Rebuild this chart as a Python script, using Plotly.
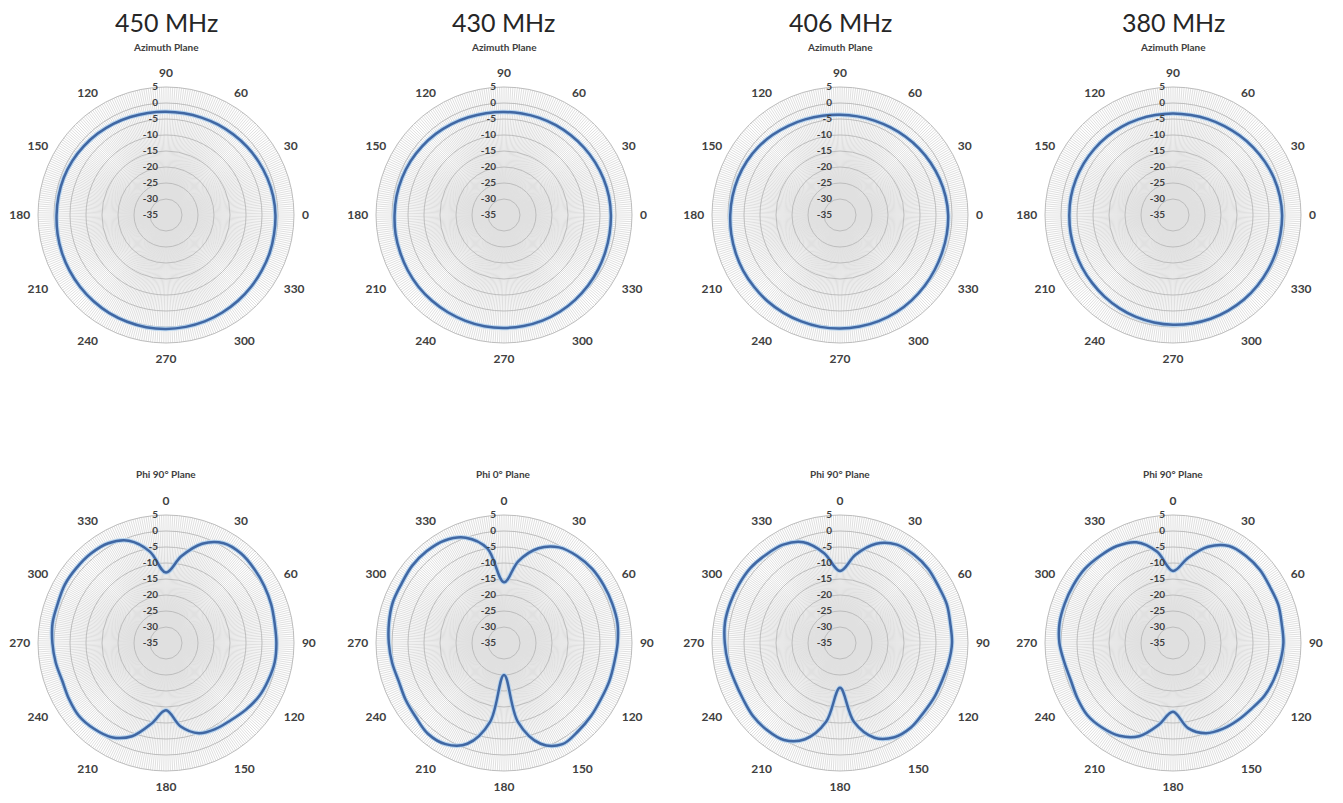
import plotly.graph_objects as go

# ---------------- data ----------------
FREQS = ["450 MHz", "430 MHz", "406 MHz", "380 MHz"]
TOP_TITLES = ["Azimuth Plane", "Azimuth Plane", "Azimuth Plane", "Azimuth Plane"]
BOTTOM_TITLES = ["Phi 90° Plane", "Phi 0° Plane", "Phi 90° Plane", "Phi 90° Plane"]

ANGLES = list(range(0, 360, 10))  # degrees

# Azimuth plane (gain dB), angles 0..350 step 10
AZ_450 = [-0.8, -1.0, -1.3, -1.6, -1.9, -2.2, -2.4, -2.6, -2.7, -2.7, -2.6, -2.4,
          -2.1, -1.8, -1.5, -1.2, -1.0, -0.9, -0.8, -0.6, -0.4, -0.2, 0.0, 0.2,
          0.4, 0.5, 0.6, 0.6, 0.5, 0.4, 0.2, 0.0, -0.2, -0.4, -0.5, -0.7]
AZ_430 = [-1.6, -1.7, -1.9, -2.1, -2.3, -2.5, -2.6, -2.7, -2.8, -2.8, -2.7, -2.5,
          -2.2, -1.9, -1.6, -1.3, -1.1, -0.9, -0.8, -0.6, -0.5, -0.3, -0.1, 0.0,
          0.1, 0.2, 0.3, 0.3, 0.2, 0.1, -0.1, -0.4, -0.7, -1.0, -1.3, -1.5]
AZ_406 = [-1.2, -1.5, -1.9, -2.3, -2.7, -3.1, -3.4, -3.6, -3.7, -3.7, -3.5, -3.2,
          -2.8, -2.3, -1.8, -1.4, -1.1, -0.9, -0.7, -0.5, -0.3, -0.1, 0.0, 0.2,
          0.3, 0.4, 0.5, 0.5, 0.4, 0.3, 0.1, -0.2, -0.5, -0.8, -1.0, -1.1]
AZ_380 = [-0.9, -1.1, -1.4, -1.8, -2.2, -2.6, -2.9, -3.1, -3.3, -3.3, -3.3, -3.2,
          -3.1, -3.0, -2.9, -2.8, -2.7, -2.6, -2.6, -2.5, -2.4, -2.2, -2.0, -1.7,
          -1.4, -1.1, -0.9, -0.7, -0.6, -0.5, -0.5, -0.5, -0.6, -0.7, -0.8, -0.9]

# Elevation planes (gain dB), angles 0..350 step 10 (0 at top, clockwise)
EL_450 = [-13.0, -7.5, -2.0, 1.0, 1.5, 1.0, 0.5, 0.0, -0.5, -0.5, -0.5, -1.0,
          -1.5, -2.5, -3.5, -4.0, -5.0, -8.5, -14.0, -9.5, -4.0, -1.0, 0.0, 0.5,
          0.0, -0.5, 0.0, 0.5, 1.0, 1.0, 1.5, 1.5, 1.5, 1.0, -1.0, -6.0]
EL_430 = [-16.0, -9.0, -3.5, -0.5, 0.5, 1.0, 1.0, 1.0, 1.0, 0.5, 0.0, 0.0,
          0.0, 0.5, 1.0, 1.5, -1.5, -10.0, -25.0, -10.0, -1.5, 1.5, 2.0, 1.0,
          0.5, 0.0, 0.5, 1.0, 1.5, 2.0, 2.0, 2.5, 2.5, 2.0, 0.0, -5.0]
EL_406 = [-12.5, -7.0, -2.0, 0.5, 1.0, 1.0, 0.5, 0.5, 0.0, 0.0, -0.5, -1.0,
          -1.0, -1.0, -0.5, -1.0, -3.5, -10.0, -21.0, -10.0, -3.0, 0.0, 0.5, 0.5,
          0.0, 0.0, 0.5, 1.0, 1.5, 1.5, 1.5, 1.5, 1.0, 0.5, -1.5, -6.5]
EL_380 = [-12.5, -8.0, -3.0, 0.0, 0.5, 0.5, 0.0, 0.0, -0.5, -0.5, -1.0, -1.5,
          -2.0, -3.0, -3.5, -4.0, -5.0, -8.0, -13.5, -9.0, -4.0, -1.5, -0.5, 0.0,
          -0.5, -1.0, -0.5, 0.5, 1.0, 1.0, 1.0, 1.0, 0.5, 0.0, -1.5, -6.0]

RADIAL_TICKS = [5, 0, -5, -10, -15, -20, -25, -30, -35]
ANGLE_LABELS = list(range(0, 360, 30))

TOP_SERIES = [AZ_450, AZ_430, AZ_406, AZ_380]
BOTTOM_SERIES = [EL_450, EL_430, EL_406, EL_380]

# ---------------- layout geometry ----------------
W, H = 1343, 803
R = 128
COL_X = [166, 504, 840, 1173]
ROW_Y = [215, 643]

DARK = "#4067A3"
HALO = "#B4D2EE"
GRID = "#BDBDBD"
SPOKE = "#E0E0E0"
TXT = "#404040"
FONT = "Lato"

fig = go.Figure()
layout_polars = {}

def closed(a):
    return list(a) + [a[0]]

idx = 0
for row in range(2):
    for col in range(4):
        idx += 1
        key = "polar" if idx == 1 else f"polar{idx}"
        cx, cy = COL_X[col], ROW_Y[row]
        vals = TOP_SERIES[col] if row == 0 else BOTTOM_SERIES[col]
        th = closed(ANGLES)
        rv = closed(vals)
        fig.add_trace(go.Scatterpolar(r=rv, theta=th, mode="lines", subplot=key,
                                      line=dict(color=HALO, width=4.5, shape="spline"),
                                      hoverinfo="skip", showlegend=False))
        fig.add_trace(go.Scatterpolar(r=rv, theta=th, mode="lines", subplot=key,
                                      line=dict(color=DARK, width=2.5, shape="spline"),
                                      showlegend=False))
        tickvals = list(range(0, 360))
        ticktext = [str(v) if v in ANGLE_LABELS else "" for v in tickvals]
        layout_polars[key] = dict(
            domain=dict(x=[(cx - R) / W, (cx + R) / W],
                        y=[1 - (cy + R) / H, 1 - (cy - R) / H]),
            bgcolor="white",
            angularaxis=dict(
                rotation=0 if row == 0 else 90,
                direction="counterclockwise" if row == 0 else "clockwise",
                tickmode="array", tickvals=tickvals, ticktext=ticktext,
                showgrid=True, gridcolor=SPOKE, gridwidth=0.5,
                showline=True, linecolor=GRID, linewidth=1,
                ticks="outside", ticklen=5, tickcolor="rgba(0,0,0,0)",
                tickfont=dict(family=FONT, size=12, color=TXT, weight="bold"),
            ),
            radialaxis=dict(
                range=[-35, 5], tickmode="array", tickvals=RADIAL_TICKS,
                ticktext=[str(v) for v in RADIAL_TICKS],
                angle=90, tickangle=90, side="counterclockwise",
                showgrid=True, gridcolor=GRID, gridwidth=1,
                showline=False, ticks="outside", ticklen=4,
                tickcolor="rgba(0,0,0,0)",
                tickfont=dict(family=FONT, size=10, color=TXT, weight="bold"),
            ),
        )

annotations = []
for col in range(4):
    cx = COL_X[col]
    annotations.append(dict(x=cx / W, y=1 - 22 / H, xref="paper", yref="paper",
                            xanchor="center", yanchor="middle",
                            text=FREQS[col], showarrow=False,
                            font=dict(family=FONT, size=25, color="#262626")))
    annotations.append(dict(x=cx / W, y=1 - 47 / H, xref="paper", yref="paper",
                            xanchor="center", yanchor="middle",
                            text=TOP_TITLES[col], showarrow=False,
                            font=dict(family=FONT, size=10, color=TXT, weight="bold")))
    annotations.append(dict(x=cx / W, y=1 - 474 / H, xref="paper", yref="paper",
                            xanchor="center", yanchor="middle",
                            text=BOTTOM_TITLES[col], showarrow=False,
                            font=dict(family=FONT, size=10, color=TXT, weight="bold")))

fig.update_layout(width=W, height=H, margin=dict(l=0, r=0, t=0, b=0),
                  paper_bgcolor="white", plot_bgcolor="white",
                  showlegend=False, annotations=annotations, **layout_polars)

fig.write_html("out.html", config={"displayModeBar": False},
               post_script="document.body.style.margin='0';")
